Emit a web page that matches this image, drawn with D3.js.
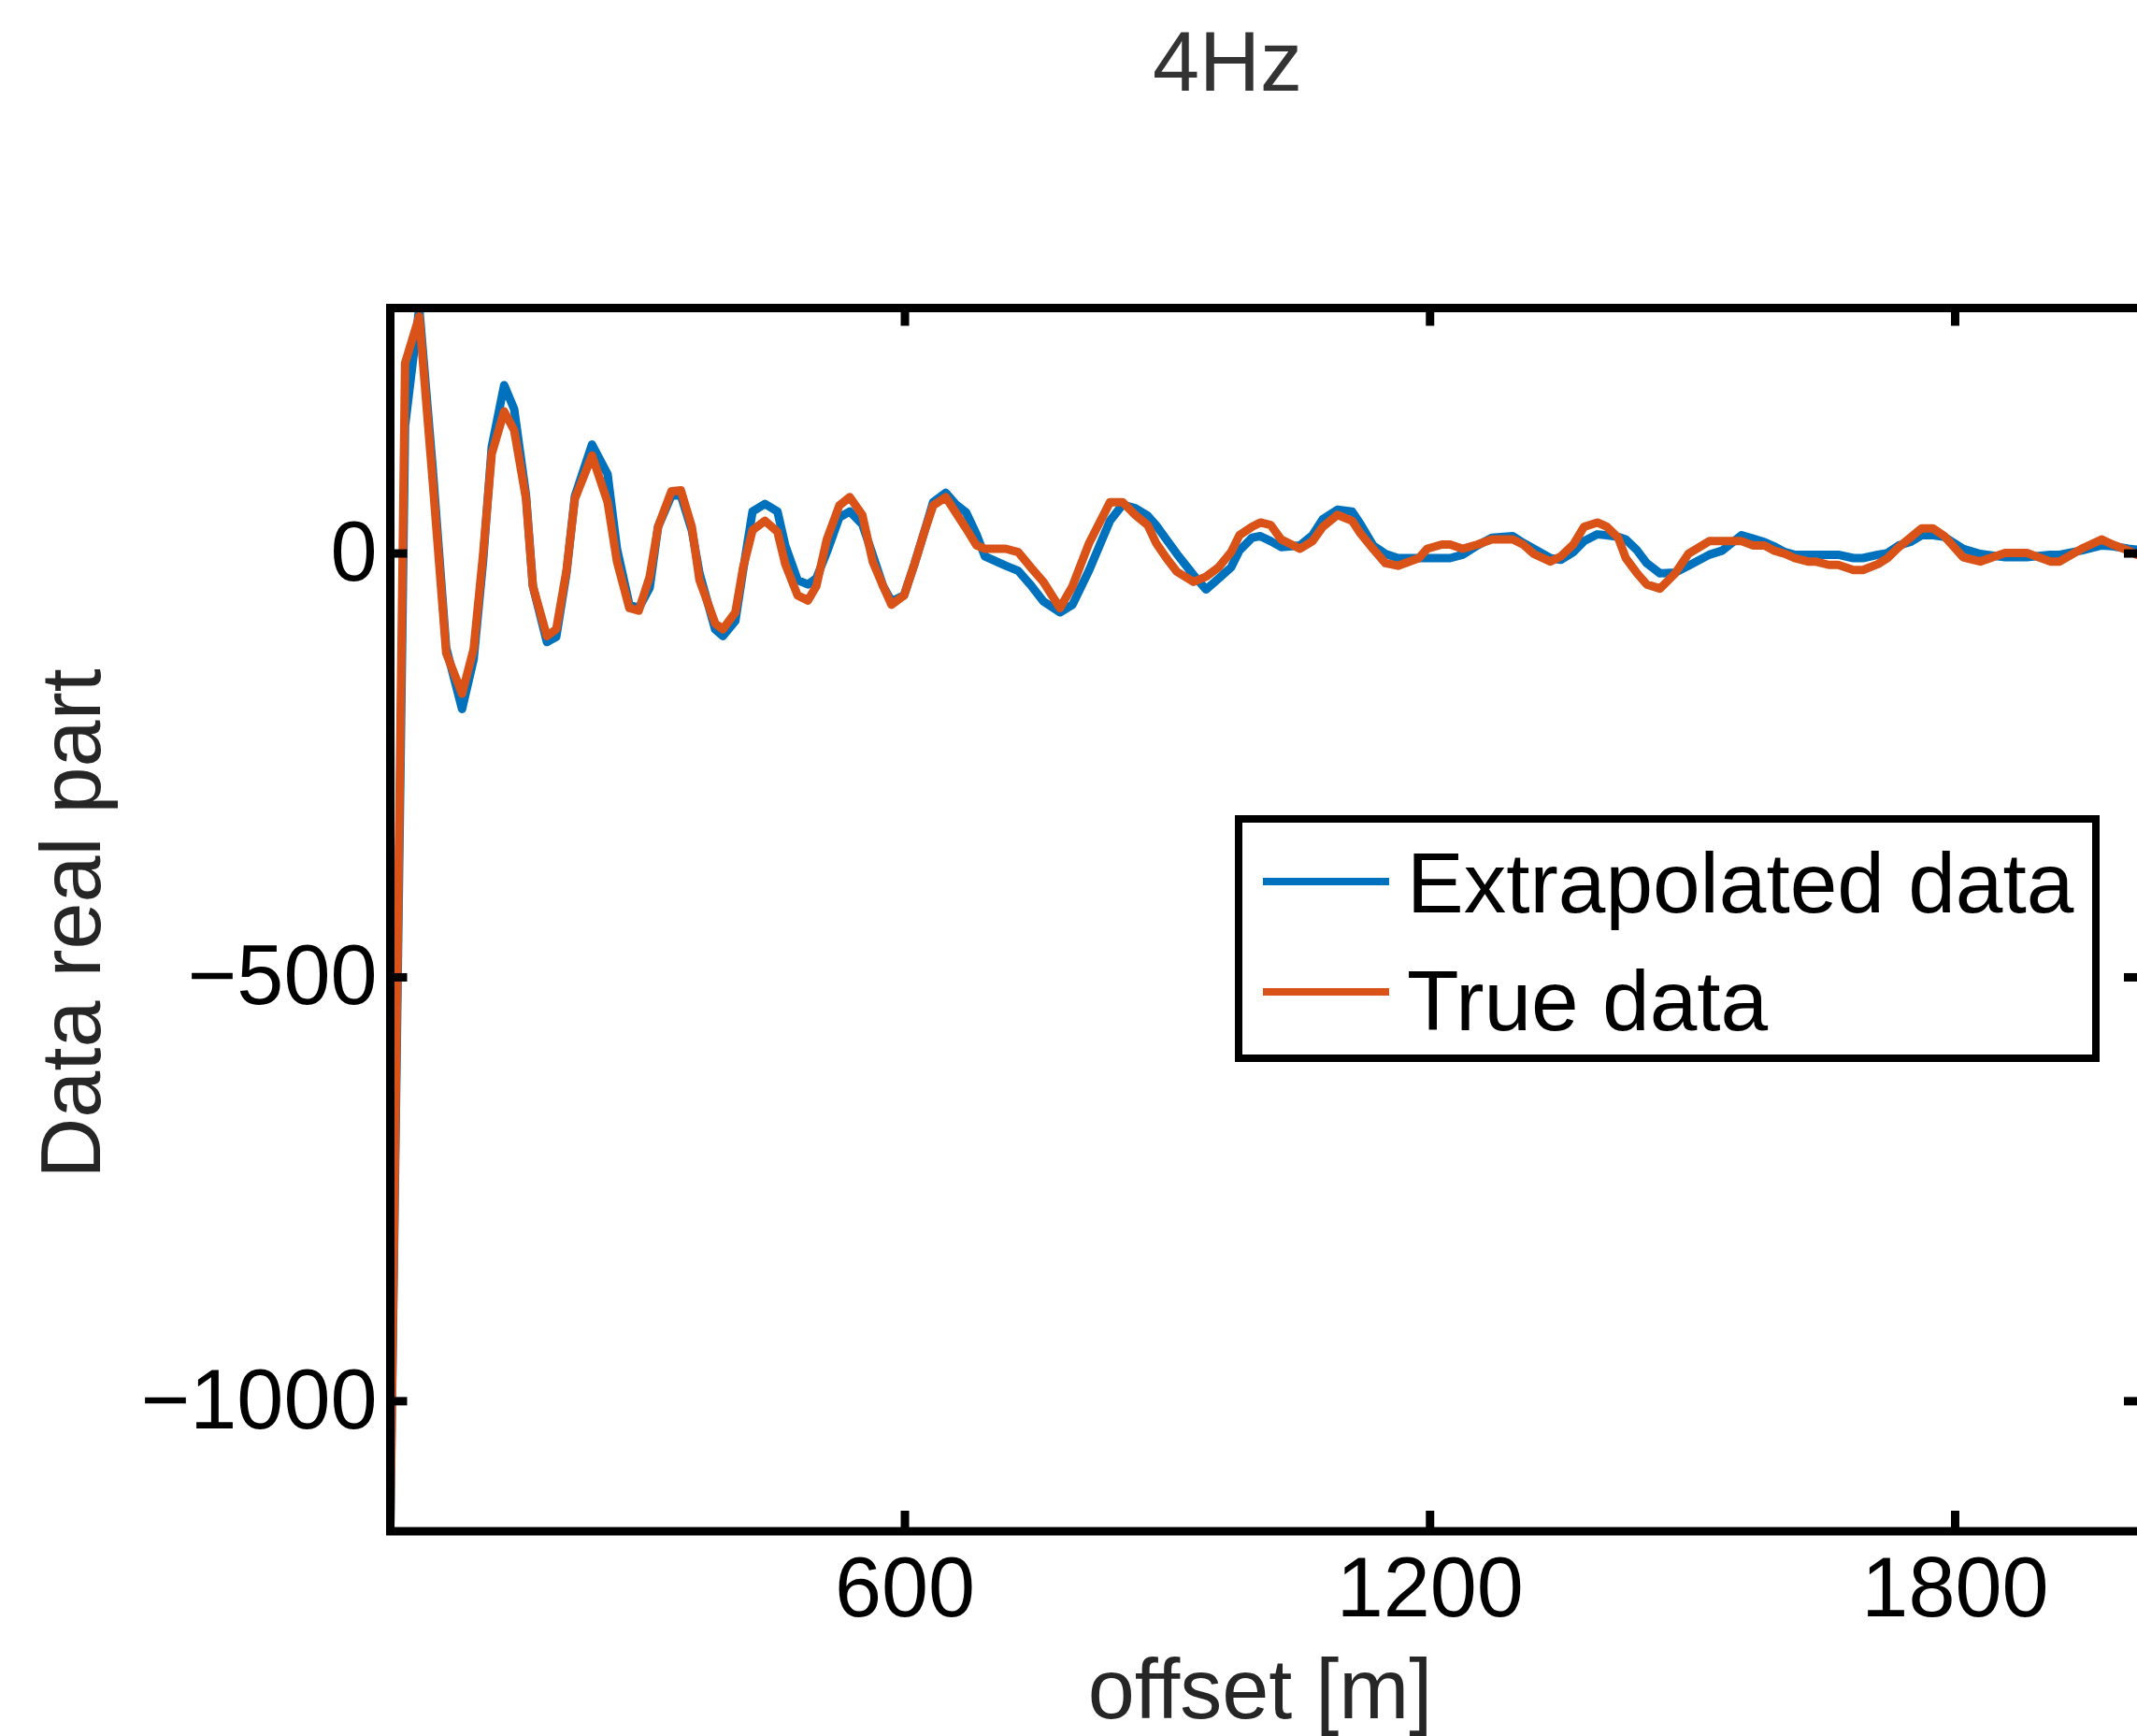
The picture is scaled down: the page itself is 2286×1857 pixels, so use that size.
<!DOCTYPE html>
<html>
<head>
<meta charset="utf-8">
<script src="https://cdn.jsdelivr.net/npm/d3@7"></script>
<style>
  body { margin: 0; background: #fff; overflow: hidden; }
  svg { display: block; font-family: "Liberation Sans", Arial, Helvetica, sans-serif; }
</style>
</head>
<body>
<div id="chart"></div>
<script>
// offsets [m] (vertices of the polylines)
const offsets = [12.5, 29.4, 45.6, 61.1, 76.4, 94.5, 107.8, 118.5, 128.4, 142.6, 154, 167.6, 175.4, 191.4, 202.1, 213.8,
  223.4, 243, 260.8, 271.5, 285.7, 296.4, 308.9, 318.5, 333.8, 344.5, 357, 365.8, 383.7, 392.5, 406.8, 415.7,
  426.4, 440.6, 454.9, 463.8, 477.9, 489.8, 499.3, 511.3, 525.6, 537.5, 551.8, 563.7, 575.6, 585.2, 599.5, 611.4,
  623.3, 632.8, 647.2, 659.1, 670.4, 682.3, 691.9, 715.7, 730, 744.4, 758.7, 777.7, 792, 811.1, 834.9, 849.2,
  863.6, 877.9, 887.4, 899.3, 911.2, 930.3, 944.6, 958.9, 973.2, 982.8, 997.1, 1006.6, 1018.5, 1030.4, 1051.9, 1066.2,
  1078.1, 1094.8, 1111.5, 1121.1, 1135.4, 1149.6, 1163.9, 1187.8, 1197.3, 1214, 1223.5, 1237.8, 1254.6, 1271.2, 1295.1, 1307,
  1318.9, 1338, 1349.9, 1364.2, 1376.6, 1391.7, 1402.6, 1415.5, 1424.2, 1437.2, 1448.1, 1463.3, 1480.6, 1495.7, 1519.6, 1534.7,
  1556.4, 1569.4, 1582.4, 1593.3, 1606.2, 1617.1, 1632.3, 1640.9, 1656.1, 1666.9, 1684.3, 1695.1, 1712.4, 1723.3, 1736.2, 1749.2,
  1762.2, 1775.2, 1788.2, 1809.6, 1829.1, 1857.6, 1882.5, 1909.2, 1919.9, 1944.9, 1968, 1980.5, 1998.3, 2008.2, 2019];

const extrapolated = [-1154, 150, 289, 98, -112, -184, -125, -10, 125, 198, 170, 68, -39, -105, -99, -24,
  67, 128, 93, 5, -61, -65, -41, 31, 68, 68, 27, -24, -90, -98, -80, -20,
  49, 58, 49, 9, -32, -37, -30, 1, 42, 49, 34, -2, -39, -57, -50, -13,
  27, 60, 71, 57, 48, 22, -4, -15, -21, -38, -57, -70, -61, -20, 38, 57,
  53, 44, 33, 16, -1, -26, -43, -30, -17, 3, 18, 20, 14, 7, 9, 21,
  40, 51, 49, 34, 9, -1, -6, -6, -6, -6, -6, -2, 9, 18, 20, 12,
  5, -6, -8, 1, 14, 22, 21, 19, 16, 3, -12, -24, -23, -15, -2, 3,
  21, 17, 13, 8, 1, -2, -2, -2, -2, -2, -6, -6, -2, 0, 9, 13,
  21, 21, 19, 5, -1, -5, -5, -2, -2, 3, 9, 8, 5, 4, 4];

const trueData = [-1148, 224, 279, 83, -118, -166, -113, -2, 117, 167, 145, 64, -39, -98, -90, -21,
  64, 115, 60, -10, -65, -68, -28, 31, 73, 74, 31, -32, -83, -90, -70, -17,
  27, 38, 25, -13, -50, -56, -39, 16, 56, 66, 45, -10, -39, -61, -50, -13,
  27, 56, 66, 47, 29, 9, 5, 5, 1, -17, -34, -65, -39, 12, 60, 60,
  45, 33, 12, -6, -22, -34, -28, -17, 1, 21, 31, 36, 33, 16, 5, 14,
  31, 45, 38, 23, 5, -12, -15, -6, 5, 10, 10, 5, 10, 16, 16, 10,
  -1, -10, -4, 10, 31, 36, 31, 18, -6, -24, -37, -42, -24, -1, 14, 14,
  14, 9, 9, 3, -1, -6, -10, -10, -14, -14, -20, -20, -13, -6, 7, 18,
  29, 29, 20, -5, -10, 0, 0, -10, -10, 5, 16, 10, 3, -2, -4];

const seriesNames = ["Extrapolated data", "True data"];
const xTicks = [600, 1200, 1800];
const yTicks = [-1000, -500, 0];

const colors = ["#0072BD", "#D95319"];
const W = 2286, H = 1857;
// right side of the axes box falls just outside the picture
const box = {left: 417.5, top: 329.5, right: 2296, bottom: 1638};

const svg = d3.select("#chart")
  .append("svg")
  .attr("width", W)
  .attr("height", H);

svg.append("rect").attr("width", W).attr("height", H).attr("fill", "#fff");

const x = d3.scaleLinear()
  .domain([12.5, 2019])
  .range([box.left, box.right]);

const y = d3.scaleLinear()
  .domain([-1154, 289])
  .range([box.bottom, box.top]);

// clip lines to the axes box
svg.append("clipPath").attr("id", "plotclip")
  .append("rect")
  .attr("x", box.left).attr("y", box.top)
  .attr("width", box.right - box.left).attr("height", box.bottom - box.top);

const line = d3.line()
  .x((d, i) => x(offsets[i]))
  .y(d => y(d));

const lines = svg.append("g").attr("clip-path", "url(#plotclip)");
[extrapolated, trueData].forEach((series, k) => {
  lines.append("path")
    .datum(series)
    .attr("d", line)
    .attr("fill", "none")
    .attr("stroke", colors[k])
    .attr("stroke-width", 9)
    .attr("stroke-linejoin", "round");
});

// axes, ticks pointing inward
function styleAxis(g) {
  g.select(".domain").remove();
  g.selectAll(".tick line").attr("stroke", "#000").attr("stroke-width", 9);
  g.selectAll(".tick text").attr("fill", "#000").style("font-size", "90px");
}

svg.append("g")
  .attr("transform", `translate(0, ${box.bottom})`)
  .call(d3.axisBottom(x).tickValues(xTicks).tickSize(-22).tickPadding(27).tickFormat(d3.format("d")))
  .call(styleAxis);

svg.append("g")
  .attr("transform", `translate(0, ${box.top})`)
  .call(d3.axisTop(x).tickValues(xTicks).tickSize(-19).tickFormat(""))
  .call(styleAxis);

svg.append("g")
  .attr("transform", `translate(${box.left}, 0)`)
  .call(d3.axisLeft(y).tickValues(yTicks).tickSize(-18).tickPadding(14).tickFormat(d3.format("d")))
  .call(styleAxis);

svg.append("g")
  .attr("transform", `translate(${box.right}, 0)`)
  .call(d3.axisRight(y).tickValues(yTicks).tickSize(-24).tickFormat(""))
  .call(styleAxis);

// box
svg.append("rect")
  .attr("x", box.left).attr("y", box.top)
  .attr("width", box.right - box.left).attr("height", box.bottom - box.top)
  .attr("fill", "none")
  .attr("stroke", "#000")
  .attr("stroke-width", 9);

// title and labels
svg.append("text")
  .attr("x", 1313).attr("y", 97)
  .attr("text-anchor", "middle")
  .attr("fill", "#333")
  .style("font-size", "90px")
  .text("4Hz");

svg.append("text")
  .attr("x", 1348).attr("y", 1838)
  .attr("text-anchor", "middle")
  .attr("fill", "#262626")
  .style("font-size", "90px")
  .text("offset [m]");

svg.append("text")
  .attr("transform", "translate(107, 988) rotate(-90)")
  .attr("text-anchor", "middle")
  .attr("fill", "#262626")
  .style("font-size", "90px")
  .text("Data real part");

// legend
const legend = svg.append("g");
legend.append("rect")
  .attr("x", 1325).attr("y", 876)
  .attr("width", 917).attr("height", 256)
  .attr("fill", "#fff")
  .attr("stroke", "#000")
  .attr("stroke-width", 8);

const legendRows = [{line: 943, text: 976}, {line: 1061, text: 1102}];
seriesNames.forEach((name, k) => {
  legend.append("line")
    .attr("x1", 1351).attr("x2", 1486)
    .attr("y1", legendRows[k].line).attr("y2", legendRows[k].line)
    .attr("stroke", colors[k])
    .attr("stroke-width", 8);
  legend.append("text")
    .attr("x", 1505).attr("y", legendRows[k].text)
    .attr("fill", "#000")
    .style("font-size", "91px")
    .text(name);
});
</script>
</body>
</html>
